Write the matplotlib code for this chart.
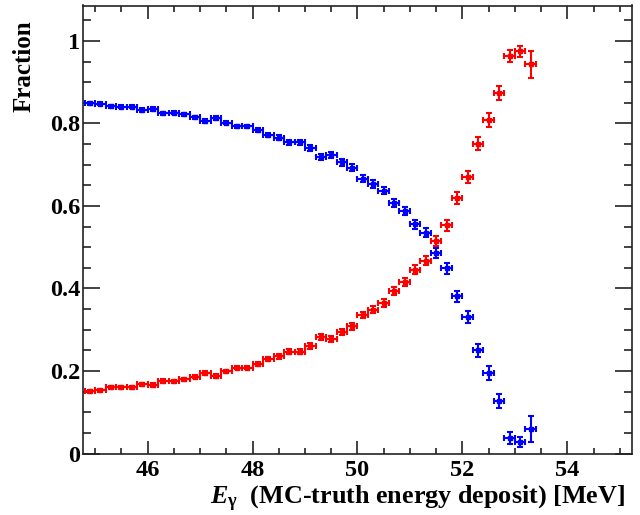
import matplotlib
matplotlib.use("Agg")
import matplotlib.pyplot as plt
from matplotlib.ticker import MultipleLocator, FuncFormatter

# ---- data ----
x_centers = [44.9, 45.1, 45.3, 45.5, 45.7, 45.9, 46.1, 46.3, 46.5, 46.7,
             46.9, 47.1, 47.3, 47.5, 47.7, 47.9, 48.1, 48.3, 48.5, 48.7,
             48.9, 49.1, 49.3, 49.5, 49.7, 49.9, 50.1, 50.3, 50.5, 50.7,
             50.9, 51.1, 51.3, 51.5, 51.7, 51.9, 52.1, 52.3, 52.5, 52.7,
             52.9, 53.1, 53.3]
x_halfwidth = 0.1

blue_frac = [0.849, 0.848, 0.842, 0.841, 0.841, 0.833, 0.835, 0.825, 0.826, 0.822,
             0.815, 0.806, 0.813, 0.802, 0.793, 0.793, 0.784, 0.773, 0.765, 0.755,
             0.755, 0.740, 0.718, 0.723, 0.706, 0.693, 0.666, 0.653, 0.637, 0.608,
             0.587, 0.556, 0.535, 0.486, 0.449, 0.381, 0.331, 0.250, 0.194, 0.128,
             0.038, 0.028, 0.060]

red_frac = [0.151, 0.153, 0.160, 0.160, 0.160, 0.168, 0.166, 0.176, 0.175, 0.180,
            0.186, 0.195, 0.188, 0.199, 0.208, 0.208, 0.217, 0.230, 0.236, 0.247,
            0.247, 0.261, 0.283, 0.278, 0.295, 0.308, 0.336, 0.349, 0.365, 0.394,
            0.415, 0.446, 0.467, 0.516, 0.553, 0.620, 0.671, 0.751, 0.808, 0.873,
            0.964, 0.975, 0.943]

frac_err = [0.004, 0.004, 0.004, 0.004, 0.004, 0.004, 0.004, 0.004, 0.004, 0.004,
            0.004, 0.004, 0.004, 0.004, 0.004, 0.004, 0.005, 0.005, 0.006, 0.006,
            0.006, 0.007, 0.007, 0.007, 0.008, 0.008, 0.008, 0.009, 0.009, 0.010,
            0.010, 0.011, 0.011, 0.012, 0.013, 0.014, 0.015, 0.016, 0.017, 0.017,
            0.014, 0.013, 0.032]

x_label = r"$E_{\mathrm{\gamma}}$  (MC-truth energy deposit) [MeV]"
y_label = "Fraction"

# ---- style ----
plt.rcParams["font.family"] = ["Liberation Serif", "DejaVu Serif"]
plt.rcParams["font.weight"] = "bold"
plt.rcParams["mathtext.fontset"] = "custom"
plt.rcParams["mathtext.rm"] = "Liberation Serif:bold"
plt.rcParams["mathtext.it"] = "Liberation Serif:bold:italic"
plt.rcParams["mathtext.bf"] = "Liberation Serif:bold"

fig = plt.figure(figsize=(6.4, 5.15), dpi=100)
W, H = 640, 515
ax = fig.add_axes([83 / W, 1 - 453.5 / H, (632 - 83) / W, (453.5 - 5.5) / H])

common = dict(fmt="s", markersize=2.5, elinewidth=1.5, capsize=1.9, capthick=1.5,
              linestyle="none")
ax.errorbar(x_centers, blue_frac, xerr=x_halfwidth, yerr=frac_err,
            color="#0000ff", **common)
ax.errorbar(x_centers, red_frac, xerr=x_halfwidth, yerr=frac_err,
            color="#ff0000", **common)

ax.set_xlim(44.767, 55.233)
ax.set_ylim(0, 1.086)

ax.xaxis.set_major_locator(MultipleLocator(2))
ax.xaxis.set_minor_locator(MultipleLocator(0.5))
ax.yaxis.set_major_locator(MultipleLocator(0.2))
ax.yaxis.set_minor_locator(MultipleLocator(0.05))
ax.yaxis.set_major_formatter(FuncFormatter(lambda v, p: "%g" % round(v, 2)))

for s in ax.spines.values():
    s.set_linewidth(1.2)
    s.set_color("#222222")

ax.tick_params(axis="both", which="both", direction="in", top=True, right=True,
               width=1.2, color="#222222", labelsize=17.5)
ax.tick_params(axis="x", which="major", length=9.4, pad=5)
ax.tick_params(axis="x", which="minor", length=4.5)
ax.tick_params(axis="y", which="major", length=12, pad=2)
ax.tick_params(axis="y", which="minor", length=6)
for lab in ax.get_xticklabels() + ax.get_yticklabels():
    lab.set_fontweight("bold")

fig.text(625 / W, 1 - 504 / H, x_label, ha="right", va="baseline",
         fontsize=18.8, fontweight="bold")
fig.text(24 / W, 1 - 20 / H, y_label, rotation=90, ha="center", va="top",
         fontsize=18, fontweight="bold")

fig.savefig("out.png", dpi=100)
